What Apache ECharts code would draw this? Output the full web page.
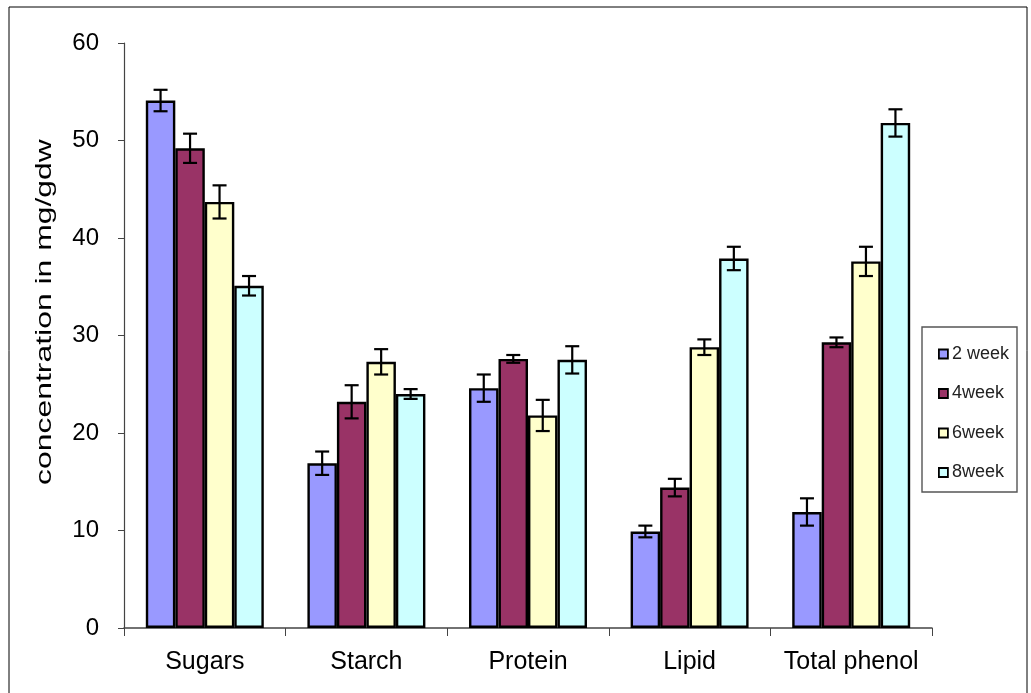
<!DOCTYPE html>
<html>
<head>
<meta charset="utf-8">
<script src="https://cdn.jsdelivr.net/npm/echarts@6/dist/echarts.min.js"></script>
<style>
html,body{margin:0;padding:0;background:#fff;}
#chart{width:1031px;height:693px;}
</style>
</head>
<body>
<div id="chart"></div>
<script>
var categories = ['Sugars', 'Starch', 'Protein', 'Lipid', 'Total phenol'];
var seriesNames = ['2 week', '4week', '6week', '8week'];
var week2 = [54.1, 16.9, 24.6, 9.9, 11.9];
var week4 = [49.2, 23.2, 27.6, 14.4, 29.3];
var week6 = [43.7, 27.3, 21.8, 28.8, 37.6];
var week8 = [35.1, 24.0, 27.5, 37.9, 51.8];
var err2 = [1.1, 1.2, 1.4, 0.6, 1.4];
var err4 = [1.5, 1.7, 0.4, 0.9, 0.5];
var err6 = [1.7, 1.3, 1.6, 0.8, 1.5];
var err8 = [1.0, 0.5, 1.4, 1.2, 1.4];
var yTicks = [0, 10, 20, 30, 40, 50, 60];
var yAxisTitle = 'concentration in mg/gdw';

var colors = ['#9999FF', '#993366', '#FFFFCC', '#CCFFFF'];
var values = [week2, week4, week6, week8];
var errors = [err2, err4, err6, err8];
var gapFrac = 0.27;
var FONT = 'Liberation Sans, Arial, sans-serif';

var chart = echarts.init(document.getElementById('chart'));
var series = [];
values.forEach(function (vals, i) {
  series.push({
    name: seriesNames[i],
    type: 'bar',
    data: vals,
    barGap: '0%',
    barCategoryGap: (gapFrac * 100) + '%',
    itemStyle: { color: colors[i], borderColor: '#000', borderWidth: 2.4 }
  });
});
values.forEach(function (vals, i) {
  var data = vals.map(function (v, k) { return [k, v - errors[i][k], v + errors[i][k]]; });
  series.push({
    type: 'custom',
    name: 'err' + i,
    z: 10,
    data: data,
    encode: { x: 0, y: [1, 2] },
    renderItem: function (params, api) {
      var k = api.value(0);
      var lo = api.coord([k, api.value(1)]);
      var hi = api.coord([k, api.value(2)]);
      var band = api.size([1, 0])[0];
      var bw = band * (1 - gapFrac) / 4;
      var x = lo[0] - band * (1 - gapFrac) / 2 + bw * (i + 0.5);
      var cap = 7;
      var st = { stroke: '#000', lineWidth: 2.2 };
      return {
        type: 'group',
        children: [
          { type: 'line', shape: { x1: x, y1: lo[1], x2: x, y2: hi[1] }, style: st },
          { type: 'line', shape: { x1: x - cap, y1: lo[1], x2: x + cap, y2: lo[1] }, style: st },
          { type: 'line', shape: { x1: x - cap, y1: hi[1], x2: x + cap, y2: hi[1] }, style: st }
        ]
      };
    }
  });
});

chart.setOption({
  animation: false,
  backgroundColor: '#fff',
  textStyle: { fontFamily: FONT },
  grid: { left: 124, right: 99, top: 43, bottom: 65, containLabel: false },
  graphic: [
    { type: 'rect', shape: { x: 9, y: 7, width: 1018, height: 720 }, style: { fill: 'none', stroke: '#000', lineWidth: 1 }, silent: true },
    { type: 'rect', shape: { x: 922, y: 327, width: 95, height: 165 }, style: { fill: '#fff', stroke: '#555', lineWidth: 1.4 }, z: 0, silent: true },
    {
      type: 'text', x: 45, y: 312, rotation: Math.PI / 2, scaleX: 1.45, scaleY: 1,
      style: { text: yAxisTitle, font: '22px ' + FONT, fill: '#000', align: 'center', verticalAlign: 'middle' },
      silent: true
    }
  ],
  legend: {
    data: seriesNames,
    orient: 'vertical',
    left: 933,
    top: 339,
    itemWidth: 9,
    itemHeight: 9,
    itemGap: 19.5,
    icon: 'rect',
    itemStyle: { borderColor: '#000', borderWidth: 1.8 },
    textStyle: { fontSize: 18, lineHeight: 20, color: '#222', fontFamily: FONT, padding: [0, 0, 0, -1] }
  },
  xAxis: {
    type: 'category',
    data: categories,
    axisLine: { lineStyle: { color: '#444', width: 1.5 } },
    axisTick: { show: true, length: 8, interval: 0, lineStyle: { color: '#444' } },
    axisLabel: { fontSize: 25, color: '#000', margin: 22, interval: 0, fontFamily: FONT }
  },
  yAxis: {
    type: 'value',
    min: yTicks[0],
    max: yTicks[yTicks.length - 1],
    interval: 10,
    axisLine: { show: true, lineStyle: { color: '#444', width: 1.2 } },
    axisTick: { show: true, length: 6, lineStyle: { color: '#444' } },
    splitLine: { show: false },
    axisLabel: { fontSize: 24, color: '#000', margin: 25, fontFamily: FONT }
  },
  series: series
});
</script>
</body>
</html>
